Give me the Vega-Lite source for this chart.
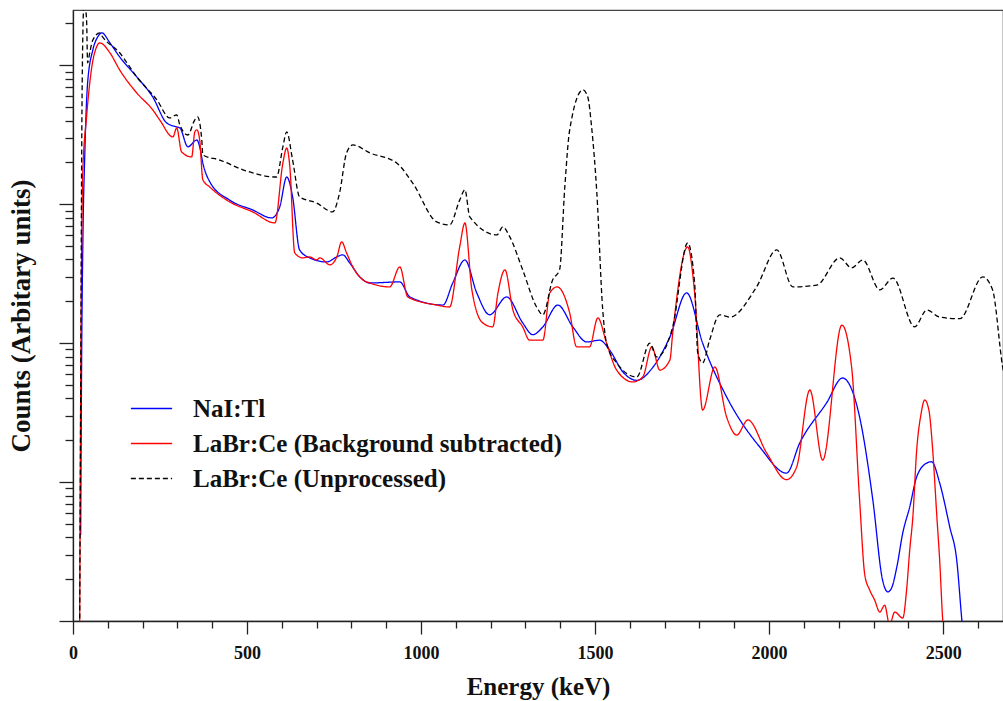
{
  "$schema": "https://vega.github.io/schema/vega-lite/v6.json",
  "width": 930,
  "height": 611,
  "autosize": {"type": "none"},
  "padding": {"left": 73, "top": 10, "right": 0, "bottom": 80},
  "background": "white",
  "config": {
    "view": {"stroke": "#444", "strokeWidth": 1.2},
    "axis": {"grid": false, "domainColor": "#222", "tickColor": "#222", "labelColor": "#111", "titleColor": "#111", "labelFont": "Liberation Serif", "titleFont": "Liberation Serif", "labelFontWeight": "bold", "titleFontWeight": "bold"}
  },
  "data": {"values": [
    {"detector": "NaI:Tl", "energy": 22, "counts": 4.16},
    {"detector": "NaI:Tl", "energy": 25, "counts": 89},
    {"detector": "NaI:Tl", "energy": 28, "counts": 469},
    {"detector": "NaI:Tl", "energy": 34, "counts": 2340},
    {"detector": "NaI:Tl", "energy": 42, "counts": 7470},
    {"detector": "NaI:Tl", "energy": 57, "counts": 12900},
    {"detector": "NaI:Tl", "energy": 71, "counts": 16000},
    {"detector": "NaI:Tl", "energy": 83, "counts": 17100},
    {"detector": "NaI:Tl", "energy": 106, "counts": 14500},
    {"detector": "NaI:Tl", "energy": 134, "counts": 11500},
    {"detector": "NaI:Tl", "energy": 183, "counts": 8260},
    {"detector": "NaI:Tl", "energy": 229, "counts": 5920},
    {"detector": "NaI:Tl", "energy": 269, "counts": 3850},
    {"detector": "NaI:Tl", "energy": 298, "counts": 3600},
    {"detector": "NaI:Tl", "energy": 307, "counts": 3540},
    {"detector": "NaI:Tl", "energy": 330, "counts": 2590},
    {"detector": "NaI:Tl", "energy": 356, "counts": 2900},
    {"detector": "NaI:Tl", "energy": 364, "counts": 2590},
    {"detector": "NaI:Tl", "energy": 373, "counts": 1980},
    {"detector": "NaI:Tl", "energy": 393, "counts": 1450},
    {"detector": "NaI:Tl", "energy": 450, "counts": 1070},
    {"detector": "NaI:Tl", "energy": 516, "counts": 910},
    {"detector": "NaI:Tl", "energy": 571, "counts": 797},
    {"detector": "NaI:Tl", "energy": 594, "counts": 957},
    {"detector": "NaI:Tl", "energy": 614, "counts": 1570},
    {"detector": "NaI:Tl", "energy": 631, "counts": 1130},
    {"detector": "NaI:Tl", "energy": 651, "counts": 469},
    {"detector": "NaI:Tl", "energy": 680, "counts": 411},
    {"detector": "NaI:Tl", "energy": 729, "counts": 384},
    {"detector": "NaI:Tl", "energy": 758, "counts": 418},
    {"detector": "NaI:Tl", "energy": 775, "counts": 432},
    {"detector": "NaI:Tl", "energy": 795, "counts": 378},
    {"detector": "NaI:Tl", "energy": 824, "counts": 300},
    {"detector": "NaI:Tl", "energy": 853, "counts": 271},
    {"detector": "NaI:Tl", "energy": 939, "counts": 276},
    {"detector": "NaI:Tl", "energy": 968, "counts": 215},
    {"detector": "NaI:Tl", "energy": 1063, "counts": 188},
    {"detector": "NaI:Tl", "energy": 1091, "counts": 271},
    {"detector": "NaI:Tl", "energy": 1126, "counts": 397},
    {"detector": "NaI:Tl", "energy": 1160, "counts": 230},
    {"detector": "NaI:Tl", "energy": 1197, "counts": 160},
    {"detector": "NaI:Tl", "energy": 1246, "counts": 215},
    {"detector": "NaI:Tl", "energy": 1292, "counts": 140},
    {"detector": "NaI:Tl", "energy": 1321, "counts": 115},
    {"detector": "NaI:Tl", "energy": 1350, "counts": 131},
    {"detector": "NaI:Tl", "energy": 1393, "counts": 188},
    {"detector": "NaI:Tl", "energy": 1436, "counts": 131},
    {"detector": "NaI:Tl", "energy": 1476, "counts": 102},
    {"detector": "NaI:Tl", "energy": 1513, "counts": 105},
    {"detector": "NaI:Tl", "energy": 1542, "counts": 89},
    {"detector": "NaI:Tl", "energy": 1580, "counts": 62},
    {"detector": "NaI:Tl", "energy": 1620, "counts": 54},
    {"detector": "NaI:Tl", "energy": 1666, "counts": 67},
    {"detector": "NaI:Tl", "energy": 1715, "counts": 111},
    {"detector": "NaI:Tl", "energy": 1763, "counts": 230},
    {"detector": "NaI:Tl", "energy": 1809, "counts": 100},
    {"detector": "NaI:Tl", "energy": 1878, "counts": 41},
    {"detector": "NaI:Tl", "energy": 1973, "counts": 17.9},
    {"detector": "NaI:Tl", "energy": 2050, "counts": 11.6},
    {"detector": "NaI:Tl", "energy": 2088, "counts": 19.1},
    {"detector": "NaI:Tl", "energy": 2165, "counts": 37.1},
    {"detector": "NaI:Tl", "energy": 2211, "counts": 56.1},
    {"detector": "NaI:Tl", "energy": 2260, "counts": 29.4},
    {"detector": "NaI:Tl", "energy": 2298, "counts": 7.43},
    {"detector": "NaI:Tl", "energy": 2326, "counts": 1.97},
    {"detector": "NaI:Tl", "energy": 2341, "counts": 1.62},
    {"detector": "NaI:Tl", "energy": 2352, "counts": 1.73},
    {"detector": "NaI:Tl", "energy": 2367, "counts": 2.45},
    {"detector": "NaI:Tl", "energy": 2384, "counts": 4.3},
    {"detector": "NaI:Tl", "energy": 2404, "counts": 6.62},
    {"detector": "NaI:Tl", "energy": 2424, "counts": 10.9},
    {"detector": "NaI:Tl", "energy": 2453, "counts": 13.7},
    {"detector": "NaI:Tl", "energy": 2467, "counts": 14},
    {"detector": "NaI:Tl", "energy": 2490, "counts": 9.86},
    {"detector": "NaI:Tl", "energy": 2519, "counts": 4.75},
    {"detector": "NaI:Tl", "energy": 2539, "counts": 2.75},
    {"detector": "NaI:Tl", "energy": 2554, "counts": 1.0},
    {"detector": "NaI:Tl", "energy": 2560, "counts": 0.7},

    {"detector": "LaBr:Ce (Background subtracted)", "energy": 19, "counts": 0.7},
    {"detector": "LaBr:Ce (Background subtracted)", "energy": 22, "counts": 39},
    {"detector": "LaBr:Ce (Background subtracted)", "energy": 28, "counts": 1680},
    {"detector": "LaBr:Ce (Background subtracted)", "energy": 39, "counts": 4250},
    {"detector": "LaBr:Ce (Background subtracted)", "energy": 54, "counts": 9730},
    {"detector": "LaBr:Ce (Background subtracted)", "energy": 68, "counts": 13600},
    {"detector": "LaBr:Ce (Background subtracted)", "energy": 77, "counts": 14500},
    {"detector": "LaBr:Ce (Background subtracted)", "energy": 106, "counts": 12300},
    {"detector": "LaBr:Ce (Background subtracted)", "energy": 134, "counts": 9270},
    {"detector": "LaBr:Ce (Background subtracted)", "energy": 183, "counts": 6330},
    {"detector": "LaBr:Ce (Background subtracted)", "energy": 229, "counts": 4780},
    {"detector": "LaBr:Ce (Background subtracted)", "energy": 249, "counts": 4050},
    {"detector": "LaBr:Ce (Background subtracted)", "energy": 287, "counts": 3050},
    {"detector": "LaBr:Ce (Background subtracted)", "energy": 298, "counts": 3540},
    {"detector": "LaBr:Ce (Background subtracted)", "energy": 312, "counts": 2380},
    {"detector": "LaBr:Ce (Background subtracted)", "energy": 341, "counts": 2190},
    {"detector": "LaBr:Ce (Background subtracted)", "energy": 350, "counts": 3320},
    {"detector": "LaBr:Ce (Background subtracted)", "energy": 356, "counts": 3430},
    {"detector": "LaBr:Ce (Background subtracted)", "energy": 364, "counts": 2900},
    {"detector": "LaBr:Ce (Background subtracted)", "energy": 373, "counts": 1500},
    {"detector": "LaBr:Ce (Background subtracted)", "energy": 393, "counts": 1330},
    {"detector": "LaBr:Ce (Background subtracted)", "energy": 450, "counts": 1040},
    {"detector": "LaBr:Ce (Background subtracted)", "energy": 516, "counts": 881},
    {"detector": "LaBr:Ce (Background subtracted)", "energy": 580, "counts": 733},
    {"detector": "LaBr:Ce (Background subtracted)", "energy": 603, "counts": 1980},
    {"detector": "LaBr:Ce (Background subtracted)", "energy": 614, "counts": 2540},
    {"detector": "LaBr:Ce (Background subtracted)", "energy": 623, "counts": 1860},
    {"detector": "LaBr:Ce (Background subtracted)", "energy": 637, "counts": 446},
    {"detector": "LaBr:Ce (Background subtracted)", "energy": 660, "counts": 411},
    {"detector": "LaBr:Ce (Background subtracted)", "energy": 680, "counts": 418},
    {"detector": "LaBr:Ce (Background subtracted)", "energy": 700, "counts": 397},
    {"detector": "LaBr:Ce (Background subtracted)", "energy": 709, "counts": 411},
    {"detector": "LaBr:Ce (Background subtracted)", "energy": 738, "counts": 366},
    {"detector": "LaBr:Ce (Background subtracted)", "energy": 758, "counts": 418},
    {"detector": "LaBr:Ce (Background subtracted)", "energy": 772, "counts": 536},
    {"detector": "LaBr:Ce (Background subtracted)", "energy": 786, "counts": 446},
    {"detector": "LaBr:Ce (Background subtracted)", "energy": 804, "counts": 354},
    {"detector": "LaBr:Ce (Background subtracted)", "energy": 833, "counts": 285},
    {"detector": "LaBr:Ce (Background subtracted)", "energy": 853, "counts": 271},
    {"detector": "LaBr:Ce (Background subtracted)", "energy": 910, "counts": 254},
    {"detector": "LaBr:Ce (Background subtracted)", "energy": 939, "counts": 354},
    {"detector": "LaBr:Ce (Background subtracted)", "energy": 962, "counts": 215},
    {"detector": "LaBr:Ce (Background subtracted)", "energy": 1045, "counts": 188},
    {"detector": "LaBr:Ce (Background subtracted)", "energy": 1082, "counts": 182},
    {"detector": "LaBr:Ce (Background subtracted)", "energy": 1111, "counts": 493},
    {"detector": "LaBr:Ce (Background subtracted)", "energy": 1126, "counts": 733},
    {"detector": "LaBr:Ce (Background subtracted)", "energy": 1146, "counts": 242},
    {"detector": "LaBr:Ce (Background subtracted)", "energy": 1177, "counts": 140},
    {"detector": "LaBr:Ce (Background subtracted)", "energy": 1206, "counts": 131},
    {"detector": "LaBr:Ce (Background subtracted)", "energy": 1221, "counts": 230},
    {"detector": "LaBr:Ce (Background subtracted)", "energy": 1241, "counts": 337},
    {"detector": "LaBr:Ce (Background subtracted)", "energy": 1264, "counts": 173},
    {"detector": "LaBr:Ce (Background subtracted)", "energy": 1292, "counts": 131},
    {"detector": "LaBr:Ce (Background subtracted)", "energy": 1312, "counts": 105},
    {"detector": "LaBr:Ce (Background subtracted)", "energy": 1350, "counts": 105},
    {"detector": "LaBr:Ce (Background subtracted)", "energy": 1370, "counts": 230},
    {"detector": "LaBr:Ce (Background subtracted)", "energy": 1391, "counts": 254},
    {"detector": "LaBr:Ce (Background subtracted)", "energy": 1427, "counts": 165},
    {"detector": "LaBr:Ce (Background subtracted)", "energy": 1447, "counts": 94},
    {"detector": "LaBr:Ce (Background subtracted)", "energy": 1484, "counts": 94},
    {"detector": "LaBr:Ce (Background subtracted)", "energy": 1508, "counts": 152},
    {"detector": "LaBr:Ce (Background subtracted)", "energy": 1533, "counts": 100},
    {"detector": "LaBr:Ce (Background subtracted)", "energy": 1562, "counts": 64},
    {"detector": "LaBr:Ce (Background subtracted)", "energy": 1608, "counts": 52.6},
    {"detector": "LaBr:Ce (Background subtracted)", "energy": 1637, "counts": 57.1},
    {"detector": "LaBr:Ce (Background subtracted)", "energy": 1663, "counts": 94},
    {"detector": "LaBr:Ce (Background subtracted)", "energy": 1686, "counts": 64},
    {"detector": "LaBr:Ce (Background subtracted)", "energy": 1715, "counts": 75.7},
    {"detector": "LaBr:Ce (Background subtracted)", "energy": 1723, "counts": 118},
    {"detector": "LaBr:Ce (Background subtracted)", "energy": 1766, "counts": 493},
    {"detector": "LaBr:Ce (Background subtracted)", "energy": 1786, "counts": 230},
    {"detector": "LaBr:Ce (Background subtracted)", "energy": 1809, "counts": 33},
    {"detector": "LaBr:Ce (Background subtracted)", "energy": 1844, "counts": 67.4},
    {"detector": "LaBr:Ce (Background subtracted)", "energy": 1878, "counts": 29.4},
    {"detector": "LaBr:Ce (Background subtracted)", "energy": 1907, "counts": 21.8},
    {"detector": "LaBr:Ce (Background subtracted)", "energy": 1939, "counts": 28},
    {"detector": "LaBr:Ce (Background subtracted)", "energy": 1993, "counts": 16.2},
    {"detector": "LaBr:Ce (Background subtracted)", "energy": 2050, "counts": 10.4},
    {"detector": "LaBr:Ce (Background subtracted)", "energy": 2079, "counts": 12.8},
    {"detector": "LaBr:Ce (Background subtracted)", "energy": 2117, "counts": 46},
    {"detector": "LaBr:Ce (Background subtracted)", "energy": 2154, "counts": 14.4},
    {"detector": "LaBr:Ce (Background subtracted)", "energy": 2209, "counts": 135},
    {"detector": "LaBr:Ce (Background subtracted)", "energy": 2237, "counts": 67.4},
    {"detector": "LaBr:Ce (Background subtracted)", "energy": 2260, "counts": 7.43},
    {"detector": "LaBr:Ce (Background subtracted)", "energy": 2275, "counts": 2.14},
    {"detector": "LaBr:Ce (Background subtracted)", "energy": 2289, "counts": 1.67},
    {"detector": "LaBr:Ce (Background subtracted)", "energy": 2303, "counts": 1.42},
    {"detector": "LaBr:Ce (Background subtracted)", "energy": 2318, "counts": 1.16},
    {"detector": "LaBr:Ce (Background subtracted)", "energy": 2332, "counts": 1.3},
    {"detector": "LaBr:Ce (Background subtracted)", "energy": 2346, "counts": 0.94},
    {"detector": "LaBr:Ce (Background subtracted)", "energy": 2361, "counts": 1.16},
    {"detector": "LaBr:Ce (Background subtracted)", "energy": 2384, "counts": 1.05},
    {"detector": "LaBr:Ce (Background subtracted)", "energy": 2395, "counts": 1.67},
    {"detector": "LaBr:Ce (Background subtracted)", "energy": 2404, "counts": 3.24},
    {"detector": "LaBr:Ce (Background subtracted)", "energy": 2413, "counts": 5.61},
    {"detector": "LaBr:Ce (Background subtracted)", "energy": 2424, "counts": 17},
    {"detector": "LaBr:Ce (Background subtracted)", "energy": 2436, "counts": 30.4},
    {"detector": "LaBr:Ce (Background subtracted)", "energy": 2447, "counts": 39},
    {"detector": "LaBr:Ce (Background subtracted)", "energy": 2459, "counts": 33},
    {"detector": "LaBr:Ce (Background subtracted)", "energy": 2470, "counts": 17},
    {"detector": "LaBr:Ce (Background subtracted)", "energy": 2482, "counts": 5.61},
    {"detector": "LaBr:Ce (Background subtracted)", "energy": 2490, "counts": 2.75},
    {"detector": "LaBr:Ce (Background subtracted)", "energy": 2499, "counts": 1.0},
    {"detector": "LaBr:Ce (Background subtracted)", "energy": 2505, "counts": 0.7},

    {"detector": "LaBr:Ce (Unprocessed)", "energy": 19, "counts": 0.7},
    {"detector": "LaBr:Ce (Unprocessed)", "energy": 22, "counts": 39},
    {"detector": "LaBr:Ce (Unprocessed)", "energy": 25, "counts": 2460},
    {"detector": "LaBr:Ce (Unprocessed)", "energy": 28, "counts": 15200},
    {"detector": "LaBr:Ce (Unprocessed)", "energy": 31, "counts": 25900},
    {"detector": "LaBr:Ce (Unprocessed)", "energy": 36, "counts": 25000},
    {"detector": "LaBr:Ce (Unprocessed)", "energy": 39, "counts": 21200},
    {"detector": "LaBr:Ce (Unprocessed)", "energy": 42, "counts": 10400},
    {"detector": "LaBr:Ce (Unprocessed)", "energy": 48, "counts": 12300},
    {"detector": "LaBr:Ce (Unprocessed)", "energy": 57, "counts": 15200},
    {"detector": "LaBr:Ce (Unprocessed)", "energy": 77, "counts": 17100},
    {"detector": "LaBr:Ce (Unprocessed)", "energy": 85, "counts": 16000},
    {"detector": "LaBr:Ce (Unprocessed)", "energy": 134, "counts": 12300},
    {"detector": "LaBr:Ce (Unprocessed)", "energy": 183, "counts": 8260},
    {"detector": "LaBr:Ce (Unprocessed)", "energy": 241, "counts": 5640},
    {"detector": "LaBr:Ce (Unprocessed)", "energy": 278, "counts": 4180},
    {"detector": "LaBr:Ce (Unprocessed)", "energy": 298, "counts": 4400},
    {"detector": "LaBr:Ce (Unprocessed)", "energy": 307, "counts": 3720},
    {"detector": "LaBr:Ce (Unprocessed)", "energy": 330, "counts": 3150},
    {"detector": "LaBr:Ce (Unprocessed)", "energy": 350, "counts": 4050},
    {"detector": "LaBr:Ce (Unprocessed)", "energy": 358, "counts": 4250},
    {"detector": "LaBr:Ce (Unprocessed)", "energy": 370, "counts": 2900},
    {"detector": "LaBr:Ce (Unprocessed)", "energy": 373, "counts": 2260},
    {"detector": "LaBr:Ce (Unprocessed)", "energy": 422, "counts": 2080},
    {"detector": "LaBr:Ce (Unprocessed)", "energy": 488, "counts": 1770},
    {"detector": "LaBr:Ce (Unprocessed)", "energy": 585, "counts": 1570},
    {"detector": "LaBr:Ce (Unprocessed)", "energy": 603, "counts": 2590},
    {"detector": "LaBr:Ce (Unprocessed)", "energy": 614, "counts": 3320},
    {"detector": "LaBr:Ce (Unprocessed)", "energy": 631, "counts": 2080},
    {"detector": "LaBr:Ce (Unprocessed)", "energy": 651, "counts": 1130},
    {"detector": "LaBr:Ce (Unprocessed)", "energy": 700, "counts": 1020},
    {"detector": "LaBr:Ce (Unprocessed)", "energy": 746, "counts": 881},
    {"detector": "LaBr:Ce (Unprocessed)", "energy": 766, "counts": 1210},
    {"detector": "LaBr:Ce (Unprocessed)", "energy": 786, "counts": 2340},
    {"detector": "LaBr:Ce (Unprocessed)", "energy": 804, "counts": 2670},
    {"detector": "LaBr:Ce (Unprocessed)", "energy": 853, "counts": 2340},
    {"detector": "LaBr:Ce (Unprocessed)", "energy": 930, "counts": 1980},
    {"detector": "LaBr:Ce (Unprocessed)", "energy": 976, "counts": 1420},
    {"detector": "LaBr:Ce (Unprocessed)", "energy": 1045, "counts": 746},
    {"detector": "LaBr:Ce (Unprocessed)", "energy": 1082, "counts": 710},
    {"detector": "LaBr:Ce (Unprocessed)", "energy": 1111, "counts": 1070},
    {"detector": "LaBr:Ce (Unprocessed)", "energy": 1126, "counts": 1270},
    {"detector": "LaBr:Ce (Unprocessed)", "energy": 1140, "counts": 811},
    {"detector": "LaBr:Ce (Unprocessed)", "energy": 1218, "counts": 601},
    {"detector": "LaBr:Ce (Unprocessed)", "energy": 1235, "counts": 687},
    {"detector": "LaBr:Ce (Unprocessed)", "energy": 1255, "counts": 582},
    {"detector": "LaBr:Ce (Unprocessed)", "energy": 1292, "counts": 337},
    {"detector": "LaBr:Ce (Unprocessed)", "energy": 1332, "counts": 182},
    {"detector": "LaBr:Ce (Unprocessed)", "energy": 1350, "counts": 160},
    {"detector": "LaBr:Ce (Unprocessed)", "energy": 1378, "counts": 285},
    {"detector": "LaBr:Ce (Unprocessed)", "energy": 1398, "counts": 337},
    {"detector": "LaBr:Ce (Unprocessed)", "energy": 1413, "counts": 1330},
    {"detector": "LaBr:Ce (Unprocessed)", "energy": 1427, "counts": 3430},
    {"detector": "LaBr:Ce (Unprocessed)", "energy": 1465, "counts": 6650},
    {"detector": "LaBr:Ce (Unprocessed)", "energy": 1479, "counts": 5920},
    {"detector": "LaBr:Ce (Unprocessed)", "energy": 1490, "counts": 3600},
    {"detector": "LaBr:Ce (Unprocessed)", "energy": 1505, "counts": 1210},
    {"detector": "LaBr:Ce (Unprocessed)", "energy": 1522, "counts": 173},
    {"detector": "LaBr:Ce (Unprocessed)", "energy": 1533, "counts": 100},
    {"detector": "LaBr:Ce (Unprocessed)", "energy": 1562, "counts": 72},
    {"detector": "LaBr:Ce (Unprocessed)", "energy": 1620, "counts": 57.1},
    {"detector": "LaBr:Ce (Unprocessed)", "energy": 1657, "counts": 100},
    {"detector": "LaBr:Ce (Unprocessed)", "energy": 1677, "counts": 79.6},
    {"detector": "LaBr:Ce (Unprocessed)", "energy": 1723, "counts": 131},
    {"detector": "LaBr:Ce (Unprocessed)", "energy": 1766, "counts": 526},
    {"detector": "LaBr:Ce (Unprocessed)", "energy": 1786, "counts": 271},
    {"detector": "LaBr:Ce (Unprocessed)", "energy": 1795, "counts": 85},
    {"detector": "LaBr:Ce (Unprocessed)", "energy": 1809, "counts": 72},
    {"detector": "LaBr:Ce (Unprocessed)", "energy": 1829, "counts": 105},
    {"detector": "LaBr:Ce (Unprocessed)", "energy": 1858, "counts": 160},
    {"detector": "LaBr:Ce (Unprocessed)", "energy": 1887, "counts": 154},
    {"detector": "LaBr:Ce (Unprocessed)", "energy": 1964, "counts": 254},
    {"detector": "LaBr:Ce (Unprocessed)", "energy": 2022, "counts": 469},
    {"detector": "LaBr:Ce (Unprocessed)", "energy": 2068, "counts": 254},
    {"detector": "LaBr:Ce (Unprocessed)", "energy": 2137, "counts": 262},
    {"detector": "LaBr:Ce (Unprocessed)", "energy": 2203, "counts": 411},
    {"detector": "LaBr:Ce (Unprocessed)", "energy": 2237, "counts": 348},
    {"detector": "LaBr:Ce (Unprocessed)", "energy": 2269, "counts": 397},
    {"detector": "LaBr:Ce (Unprocessed)", "energy": 2318, "counts": 242},
    {"detector": "LaBr:Ce (Unprocessed)", "energy": 2356, "counts": 294},
    {"detector": "LaBr:Ce (Unprocessed)", "energy": 2418, "counts": 131},
    {"detector": "LaBr:Ce (Unprocessed)", "energy": 2453, "counts": 173},
    {"detector": "LaBr:Ce (Unprocessed)", "energy": 2490, "counts": 154},
    {"detector": "LaBr:Ce (Unprocessed)", "energy": 2548, "counts": 150},
    {"detector": "LaBr:Ce (Unprocessed)", "energy": 2614, "counts": 300},
    {"detector": "LaBr:Ce (Unprocessed)", "energy": 2642, "counts": 242},
    {"detector": "LaBr:Ce (Unprocessed)", "energy": 2671, "counts": 67.4},
    {"detector": "LaBr:Ce (Unprocessed)", "energy": 2691, "counts": 39}
  ]},
  "mark": {"type": "line", "clip": true, "strokeWidth": 1.3, "interpolate": "monotone"},
  "encoding": {
    "x": {
      "field": "energy", "type": "quantitative",
      "scale": {"domain": [0, 2672], "nice": false, "zero": false},
      "axis": {
        "title": "Energy (keV)", "titleFontSize": 25, "titlePadding": 12,
        "values": [0,100,200,300,400,500,600,700,800,900,1000,1100,1200,1300,1400,1500,1600,1700,1800,1900,2000,2100,2200,2300,2400,2500,2600],
        "labelExpr": "datum.value % 500 === 0 ? datum.label : ''",
        "format": "d",
        "labelFontSize": 18, "labelFlush": false, "labelOverlap": false, "labelPadding": 10,
        "tickSize": {"condition": {"test": "datum.value % 500 === 0", "value": 13}, "value": 7},
        "tickWidth": 1.3, "domainWidth": 1.3
      }
    },
    "y": {
      "field": "counts", "type": "quantitative",
      "scale": {"type": "log", "domain": [1, 25000], "nice": false},
      "axis": {
        "title": "Counts (Arbitary units)", "titleFontSize": 27, "titlePadding": 23,
        "labels": false,
        "values": [1,2,3,4,5,6,7,8,9,10,20,30,40,50,60,70,80,90,100,200,300,400,500,600,700,800,900,1000,2000,3000,4000,5000,6000,7000,8000,9000,10000,20000],
        "tickSize": {"condition": {"test": "indexof([1,10,100,1000,10000], datum.value) >= 0", "value": 14}, "value": 8},
        "tickWidth": 1.3, "domainWidth": 1.3
      }
    },
    "color": {
      "field": "detector", "type": "nominal",
      "scale": {"domain": ["NaI:Tl", "LaBr:Ce (Background subtracted)", "LaBr:Ce (Unprocessed)"], "range": ["#0000ff", "#ff0000", "#000000"]},
      "legend": {
        "orient": "none", "legendX": 57, "legendY": 377, "title": null,
        "symbolType": "stroke", "symbolSize": 1700, "symbolStrokeWidth": 1.5,
        "labelFont": "Liberation Serif", "labelFontWeight": "bold", "labelFontSize": 25, "labelColor": "#111",
        "labelOffset": 20, "rowPadding": -4, "labelLimit": 600
      }
    },
    "strokeDash": {
      "field": "detector", "type": "nominal",
      "scale": {"domain": ["NaI:Tl", "LaBr:Ce (Background subtracted)", "LaBr:Ce (Unprocessed)"], "range": [[1, 0], [1, 0], [5, 3]]},
      "legend": {
        "orient": "none", "legendX": 57, "legendY": 377, "title": null,
        "symbolType": "stroke", "symbolSize": 1700, "symbolStrokeWidth": 1.5,
        "labelFont": "Liberation Serif", "labelFontWeight": "bold", "labelFontSize": 25, "labelColor": "#111",
        "labelOffset": 20, "rowPadding": -4, "labelLimit": 600
      }
    }
  }
}
